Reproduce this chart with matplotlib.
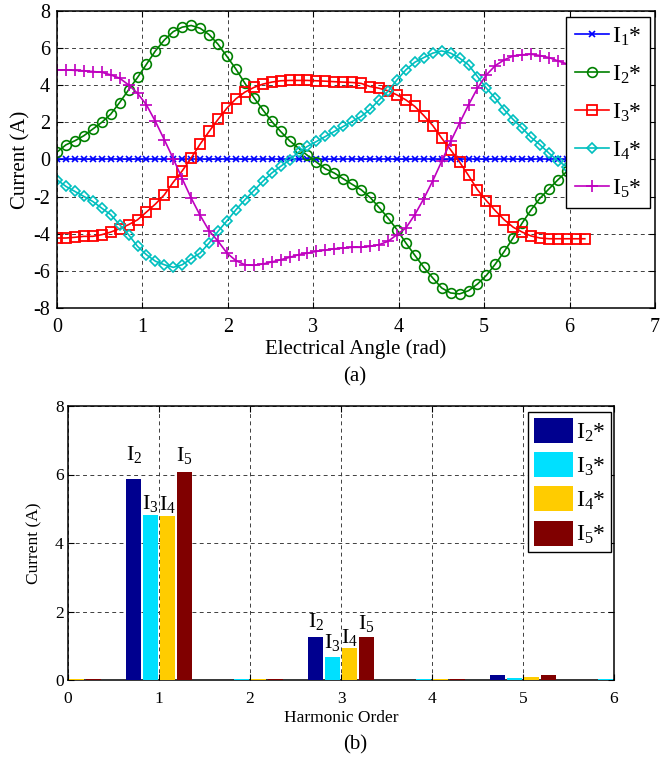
import numpy as np
import matplotlib
matplotlib.use("Agg")
import matplotlib.pyplot as plt

plt.rcParams['font.family'] = ['Liberation Serif', 'DejaVu Serif']
plt.rcParams['mathtext.fontset'] = 'custom'
plt.rcParams['mathtext.rm'] = 'Liberation Serif'
plt.rcParams['mathtext.it'] = 'Liberation Serif:italic'
plt.rcParams['axes.unicode_minus'] = False

# (a) reference currents, one sample every 2*pi/60 rad
angle = np.linspace(0, 2 * np.pi, 60, endpoint=False)

i1 = [0.0] * 60
i2 = [0.40, 0.79, 1.01, 1.28, 1.64, 2.00, 2.44, 3.07, 3.75, 4.42,
      5.13, 5.85, 6.44, 6.89, 7.13, 7.22, 7.07, 6.73, 6.21, 5.55,
      4.87, 4.11, 3.34, 2.68, 2.05, 1.51, 1.01, 0.61, 0.22, -0.14,
      -0.50, -0.73, -1.04, -1.34, -1.63, -2.04, -2.58, -3.15, -3.78, -4.50,
      -5.16, -5.81, -6.38, -6.92, -7.19, -7.24, -7.07, -6.71, -6.24, -5.63,
      -4.95, -4.21, -3.42, -2.71, -2.08, -1.58, -1.09, -0.64, -0.25, 0.10]
i3 = [-4.23, -4.23, -4.19, -4.14, -4.14, -4.05, -3.91, -3.73, -3.51, -3.25,
      -2.83, -2.40, -1.90, -1.22, -0.61, 0.08, 0.83, 1.51, 2.16, 2.77,
      3.27, 3.63, 3.88, 4.06, 4.17, 4.24, 4.26, 4.26, 4.26, 4.24,
      4.22, 4.19, 4.17, 4.15, 4.10, 3.93, 3.84, 3.70, 3.48, 3.21,
      2.86, 2.37, 1.83, 1.15, 0.52, -0.14, -0.86, -1.63, -2.22, -2.76,
      -3.25, -3.65, -3.91, -4.12, -4.23, -4.27, -4.27, -4.27, -4.27, -4.27]
i4 = [-1.09, -1.45, -1.72, -1.99, -2.26, -2.62, -2.97, -3.51, -4.05, -4.68,
      -5.13, -5.48, -5.67, -5.81, -5.67, -5.34, -5.04, -4.50, -3.87, -3.30,
      -2.71, -2.17, -1.68, -1.18, -0.73, -0.37, -0.02, 0.40, 0.71, 0.97,
      1.24, 1.51, 1.78, 2.05, 2.32, 2.70, 3.21, 3.67, 4.29, 4.83,
      5.24, 5.49, 5.73, 5.85, 5.73, 5.46, 5.10, 4.47, 3.84, 3.30,
      2.68, 2.15, 1.69, 1.19, 0.79, 0.34, -0.07, -0.40, -0.70, -0.95]
i5 = [4.83, 4.83, 4.80, 4.78, 4.74, 4.70, 4.56, 4.38, 4.02, 3.57,
      2.94, 2.05, 1.06, 0.04, -1.04, -2.08, -3.01, -3.84, -4.40, -5.04,
      -5.45, -5.67, -5.70, -5.63, -5.52, -5.40, -5.27, -5.13, -5.04, -4.95,
      -4.88, -4.81, -4.77, -4.73, -4.73, -4.68, -4.59, -4.41, -4.05, -3.69,
      -2.97, -2.11, -1.15, -0.10, 0.97, 1.96, 2.94, 3.84, 4.56, 5.06,
      5.37, 5.58, 5.64, 5.67, 5.60, 5.49, 5.31, 5.15, 5.00, 4.90]

# (b) harmonic spectrum
harmonics = [0, 1, 2, 3, 4, 5, 6]
h_i2 = [0.03, 5.88, 0.0, 1.25, 0.0, 0.14, 0.0]
h_i3 = [0.03, 4.81, 0.03, 0.67, 0.03, 0.05, 0.03]
h_i4 = [0.03, 4.78, 0.03, 0.93, 0.03, 0.10, 0.03]
h_i5 = [0.03, 6.08, 0.03, 1.27, 0.03, 0.14, 0.03]

fig = plt.figure(figsize=(6.6, 7.6), dpi=100)


def style_axes(ax, tick_size, xpad, ypad):
    ax.grid(True, linestyle=(0, (4, 3.5)), color='0.25', linewidth=0.7)
    ax.set_axisbelow(True)
    ax.tick_params(direction='in', top=True, right=True, length=4,
                   width=0.8, labelsize=tick_size)
    ax.tick_params(axis='x', pad=xpad)
    ax.tick_params(axis='y', pad=ypad)
    for s in ax.spines.values():
        s.set_linewidth(1.1)


# ---- top plot
ax1 = fig.add_axes([57 / 660, 1 - 308 / 760, 598 / 660, 297 / 760])
curves = [
    (i1, 'I$_1$*', (0, 0, 1), 'x', 5, 1.2),
    (i2, 'I$_2$*', (0, 0.5, 0), 'o', 7, 1.2),
    (i3, 'I$_3$*', (1, 0, 0), 's', 7.5, 1.3),
    (i4, 'I$_4$*', (0, 0.75, 0.75), 'D', 5.5, 1.2),
    (i5, 'I$_5$*', (0.75, 0, 0.75), '+', 8, 1.2),
]
for vals, lab, col, mk, ms, mew in curves:
    ax1.plot(angle, vals, color=col, marker=mk, markersize=ms,
             markerfacecolor='none', markeredgewidth=mew, linewidth=1.2,
             label=lab)
ax1.set_xlim(0, 7)
ax1.set_ylim(-8, 8)
ax1.set_xticks(range(0, 8))
ax1.set_yticks(range(-8, 9, 2))
style_axes(ax1, 14.5, 7, 5)
ax1.set_xlabel('Electrical Angle (rad)', fontsize=15, labelpad=2)
ax1.set_ylabel('Current (A)', fontsize=15, labelpad=2)
leg1 = ax1.legend(loc='upper right', bbox_to_anchor=(0.992, 0.98),
                  borderaxespad=0, fontsize=17, handlelength=1.45,
                  handletextpad=0.15, labelspacing=0.67, borderpad=0.35,
                  fancybox=False, framealpha=1, edgecolor='k')
leg1.get_frame().set_linewidth(1.0)
fig.text(355 / 660, 1 - 377 / 760, '(a)', ha='center', va='center', fontsize=15)

# ---- bottom plot
ax2 = fig.add_axes([68 / 660, 1 - 680 / 760, 546 / 660, 274 / 760])
bar_series = [
    (h_i2, 'I$_2$*', 'I$_2$', (0, 0, 0.56)),
    (h_i3, 'I$_3$*', 'I$_3$', (0, 0.88, 1)),
    (h_i4, 'I$_4$*', 'I$_4$', (1, 0.8, 0)),
    (h_i5, 'I$_5$*', 'I$_5$', (0.5, 0, 0)),
]
step = 0.185
width = 0.17
label_gap = [(10, 4), (1, 3), (1, 0), (4, 2)]
h = np.array(harmonics, dtype=float)
for j, (vals, lab, short, col) in enumerate(bar_series):
    xs = h + (j - 1.5) * step
    ax2.bar(xs, vals, width=width, color=col, label=lab, zorder=3)
    for idx, gap in zip([1, 3], label_gap[j]):
        ax2.annotate(short, (xs[idx], vals[idx]), xytext=(0, gap),
                     textcoords='offset points', ha='center', va='bottom',
                     fontsize=16)
ax2.set_xlim(0, 6)
ax2.set_ylim(0, 8)
ax2.set_xticks(harmonics)
ax2.set_yticks(range(0, 9, 2))
style_axes(ax2, 12.5, 8, 3)
ax2.set_xlabel('Harmonic Order', fontsize=12.5, labelpad=2)
ax2.set_ylabel('Current (A)', fontsize=12.5, labelpad=9)
leg2 = ax2.legend(loc='upper right', bbox_to_anchor=(0.9945, 0.978),
                  borderaxespad=0, fontsize=17, handlelength=1.65,
                  handleheight=1.25, handletextpad=0.1, labelspacing=0.36,
                  borderpad=0.25, fancybox=False, framealpha=1, edgecolor='k')
leg2.get_frame().set_linewidth(1.0)
fig.text(355 / 660, 1 - 745 / 760, '(b)', ha='center', va='center', fontsize=15)

fig.savefig('out.png', dpi=100)
